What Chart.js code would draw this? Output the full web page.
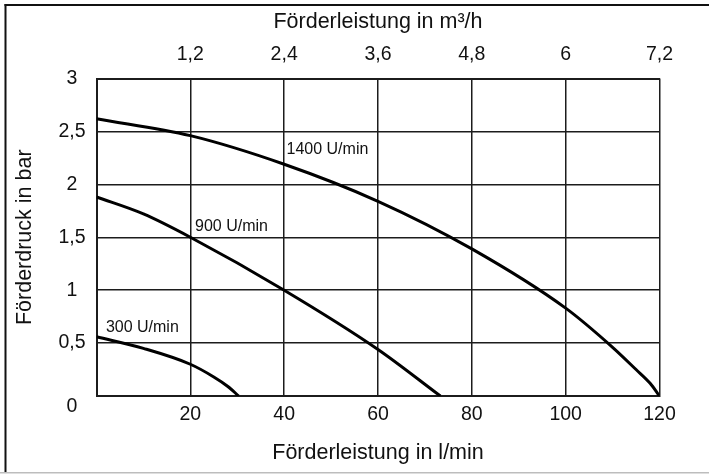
<!DOCTYPE html>
<html>
<head>
<meta charset="utf-8">
<title>Förderleistung / Förderdruck</title>
<script src="https://cdn.jsdelivr.net/npm/chart.js@4/dist/chart.umd.min.js"></script>
<style>
	html,body{margin:0;padding:0;background:#fff;}
	#pumpChart{display:block;}
</style>
</head>
<body>
<canvas id="pumpChart" width="709" height="474"></canvas>
<script>
// Kennlinien: Förderleistung (l/min) gegen Förderdruck (bar)
const flow1400 = [0, 20, 40, 60, 80, 100, 110, 115, 118, 120];
const press1400 = [2.62, 2.46, 2.19, 1.84, 1.39, 0.83, 0.46, 0.25, 0.12, 0];

const flow900 = [0, 10, 20, 40, 60, 73.3];
const press900 = [1.88, 1.72, 1.5, 1.0, 0.44, 0];

const flow300 = [0, 10, 20, 25, 28, 30.3];
const press300 = [0.56, 0.45, 0.3, 0.18, 0.09, 0];

// Drehzahl-Beschriftungen (Position in Datenwerten)
const curveNames = ['1400 U/min', '900 U/min', '300 U/min'];
const nameFlow = [40.5, 21.0, 2.0];
const namePress = [2.33, 1.6, 0.645];

// Achsenbeschriftungen
const bottomTickLabels = ['', '20', '40', '60', '80', '100', '120'];
const topTickLabels = ['', '1,2', '2,4', '3,6', '4,8', '6', '7,2'];
const pressTickLabels = ['0', '0,5', '1', '1,5', '2', '2,5', '3'];

const FONT = 'Arial, "Liberation Sans", sans-serif';
const INK = '#1c1c1c';

function points(xs, ys){ return xs.map((x,i)=>({x:x, y:ys[i]})); }

function curve(xs, ys){
	return {
		data: points(xs, ys),
		borderColor: '#000',
		borderWidth: 3,
		pointRadius: 0,
		fill: false,
		cubicInterpolationMode: 'monotone'
	};
}

// Rahmen um das ganze Bild
const framePlugin = {
	id: 'frame',
	beforeDraw(chart){
		const ctx = chart.ctx;
		ctx.save();
		ctx.fillStyle = '#fff';
		ctx.fillRect(0, 0, chart.width, chart.height);
		ctx.restore();
	},
	afterDraw(chart){
		const ctx = chart.ctx;
		ctx.save();
		ctx.strokeStyle = '#bdbdbd';
		ctx.lineWidth = 1.5;
		ctx.beginPath(); ctx.moveTo(0, 472.75); ctx.lineTo(chart.width, 472.75); ctx.stroke();
		ctx.strokeStyle = '#111';
		ctx.lineWidth = 2;
		ctx.beginPath(); ctx.moveTo(4.5, 5); ctx.lineTo(chart.width, 5); ctx.stroke();
		ctx.beginPath(); ctx.moveTo(5.5, 4); ctx.lineTo(5.5, 472); ctx.stroke();
		ctx.restore();
	}
};

// Drehzahl-Texte an den Kurven
const curveNamePlugin = {
	id: 'curveNames',
	afterDatasetsDraw(chart){
		const ctx = chart.ctx, sx = chart.scales.x, sy = chart.scales.y;
		ctx.save();
		ctx.fillStyle = '#111';
		ctx.font = '16px ' + FONT;
		ctx.textAlign = 'left';
		ctx.textBaseline = 'middle';
		curveNames.forEach((t,i)=>{
			ctx.fillText(t, sx.getPixelForValue(nameFlow[i]), sy.getPixelForValue(namePress[i]));
		});
		ctx.restore();
	}
};

const gridOpts = { color: INK, lineWidth: 1.5, drawTicks: false };
const borderOpts = { color: INK, width: 2 };

new Chart(document.getElementById('pumpChart'), {
	type: 'line',
	data: { datasets: [curve(flow1400, press1400), curve(flow900, press900), curve(flow300, press300)] },
	options: {
		responsive: false,
		animation: false,
		events: [],
		layout: { padding: { left: 0, right: 49.5, top: 0, bottom: 0 } },
		plugins: { legend: { display: false }, tooltip: { enabled: false } },
		scales: {
			x: {
				type: 'linear', position: 'bottom', min: 0, max: 120,
				grid: gridOpts, border: borderOpts,
				afterFit: s => { s.height = 78; },
				ticks: {
					stepSize: 20, autoSkip: false, maxRotation: 0, padding: 7,
					color: '#111', font: { family: FONT, size: 19.5, lineHeight: 1.2 },
					callback: (v, i) => bottomTickLabels[i]
				},
				title: {
					display: true, text: 'Förderleistung in l/min', color: '#111',
					font: { family: FONT, size: 21.5, lineHeight: 1.2 },
					padding: { top: 0, bottom: 8 }
				}
			},
			x2: {
				type: 'linear', position: 'top', min: 0, max: 120,
				grid: { display: false, drawTicks: false }, border: borderOpts,
				afterFit: s => { s.height = 78.5; },
				ticks: {
					stepSize: 20, autoSkip: false, maxRotation: 0, padding: 12,
					color: '#111', font: { family: FONT, size: 19.5, lineHeight: 1.2 },
					callback: (v, i) => topTickLabels[i]
				},
				title: {
					display: true, text: 'Förderleistung in m³/h', color: '#111',
					font: { family: FONT, size: 21.5, lineHeight: 1.2 },
					padding: { top: 9, bottom: 0 }
				}
			},
			y: {
				type: 'linear', position: 'left', min: 0, max: 3,
				grid: gridOpts, border: borderOpts,
				afterFit: s => { s.width = 96.5; },
				ticks: {
					stepSize: 0.5, autoSkip: false, padding: 11, crossAlign: 'center',
					color: '#111', font: { family: FONT, size: 19.5, lineHeight: 1.12 },
					// die Null sitzt unterhalb der Ecke
					callback: (v, i) => i === 0 ? ['', pressTickLabels[0]] : pressTickLabels[i]
				},
				title: {
					display: true, text: 'Förderdruck in bar', color: '#111',
					font: { family: FONT, size: 21.5, lineHeight: 1.2 },
					padding: { top: 12, bottom: 0 }
				}
			}
		}
	},
	plugins: [framePlugin, curveNamePlugin]
});
</script>
</body>
</html>
